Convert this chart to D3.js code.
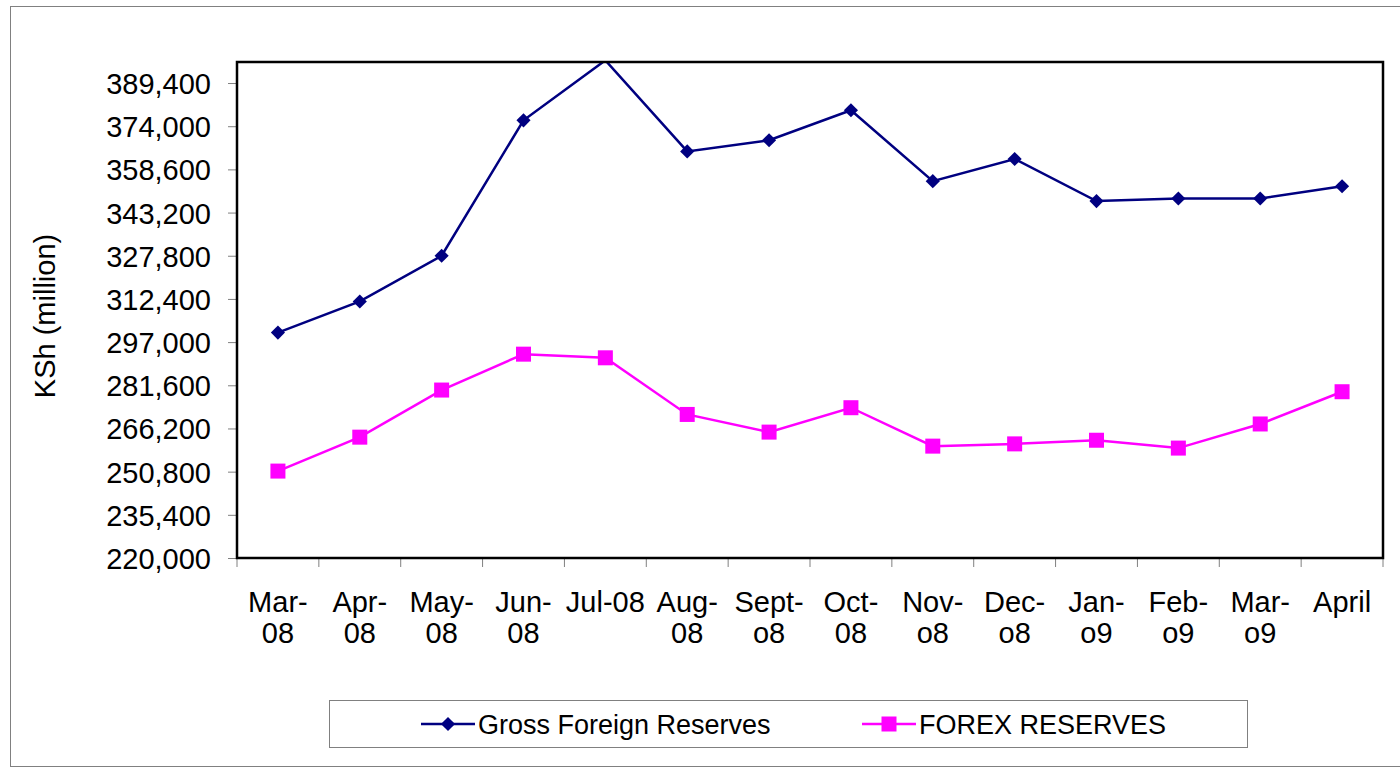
<!DOCTYPE html>
<html>
<head>
<meta charset="utf-8">
<script src="https://cdn.jsdelivr.net/npm/d3@7"></script>
<style>
  body { margin: 0; background: #fff; }
  svg { display: block; font-family: 'Liberation Sans', Arial, sans-serif; }
</style>
</head>
<body>
<svg width="1400" height="771"></svg>
<script>
// Data
const months = ['Mar-08', 'Apr-08', 'May-08', 'Jun-08', 'Jul-08', 'Aug-08', 'Sept-o8',
  'Oct-08', 'Nov-o8', 'Dec-o8', 'Jan-o9', 'Feb-o9', 'Mar-o9', 'April']
const monthLines = [['Mar-', '08'], ['Apr-', '08'], ['May-', '08'], ['Jun-', '08'], ['Jul-08'],
  ['Aug-', '08'], ['Sept-', 'o8'], ['Oct-', '08'], ['Nov-', 'o8'], ['Dec-', 'o8'],
  ['Jan-', 'o9'], ['Feb-', 'o9'], ['Mar-', 'o9'], ['April']]
const grossReserves = [300400, 311500, 327800, 376100, 397500, 365000, 369000,
  379700, 354400, 362300, 347300, 348200, 348200, 352600]
const forexReserves = [251000, 263100, 279900, 292700, 291400, 271200, 264900,
  273600, 259900, 260700, 262000, 259200, 267800, 279300]
const yTicks = [220000, 235400, 250800, 266200, 281600, 297000, 312400,
  327800, 343200, 358600, 374000, 389400]
const yMax = 396900

const navy = '#000080',
  magenta = '#ff00ff'

let xPixelMin = 237
let xPixelMax = 1383
let yPixelMin = 62
let yPixelMax = 558

const svg = d3.select('svg')

// outer chart frame
svg.append('rect')
  .attr('x', 10.5).attr('y', 6.5)
  .attr('width', 1400).attr('height', 760)
  .attr('fill', 'none').attr('stroke', '#808080').attr('stroke-width', 1)

// scales
let xScale = d3.scaleBand().domain(months).range([xPixelMin, xPixelMax])
let yScale = d3.scaleLinear().domain([220000, yMax]).range([yPixelMax, yPixelMin])
const xMid = (d) => xScale(d) + xScale.bandwidth() / 2

// y axis
let yAxis = d3.axisLeft(yScale)
  .tickValues(yTicks)
  .tickFormat(d3.format(','))
  .tickSize(9)
  .tickPadding(17)

const yAxisG = svg.append('g')
  .attr('id', 'yAxisG')
  .attr('transform', `translate(${xPixelMin}, 0)`)
  .call(yAxis)
yAxisG.select('.domain').remove()
yAxisG.selectAll('line').attr('stroke', '#808080')
yAxisG.selectAll('text')
  .attr('font-size', 29).attr('fill', '#000')
  .attr('dy', '0.36em')
  .attr('font-family', "'Liberation Sans', Arial, sans-serif")

// x axis: ticks at band edges
const xAxisG = svg.append('g').attr('id', 'xAxisG')
xAxisG.selectAll('line')
  .data(months.concat(['end']))
  .enter()
  .append('line')
  .attr('x1', (d) => d === 'end' ? xPixelMax : xScale(d))
  .attr('x2', (d) => d === 'end' ? xPixelMax : xScale(d))
  .attr('y1', yPixelMax)
  .attr('y2', yPixelMax + 9)
  .attr('stroke', '#808080')

xAxisG.selectAll('text')
  .data(months)
  .enter()
  .append('text')
  .attr('x', (d) => xMid(d))
  .attr('y', 612)
  .attr('text-anchor', 'middle')
  .attr('font-size', 29)
  .attr('fill', '#000')
  .each(function (d, i) {
    d3.select(this).selectAll('tspan')
      .data(monthLines[i])
      .enter()
      .append('tspan')
      .attr('x', xMid(d))
      .attr('dy', (t, j) => j === 0 ? 0 : 31)
      .text((t) => t)
  })

// y axis title
svg.append('text')
  .attr('transform', 'translate(55, 316) rotate(-90)')
  .attr('text-anchor', 'middle')
  .attr('font-size', 29)
  .text('KSh (million)')

// clip for series
svg.append('clipPath').attr('id', 'plotClip')
  .append('rect')
  .attr('x', xPixelMin).attr('y', yPixelMin)
  .attr('width', xPixelMax - xPixelMin).attr('height', yPixelMax - yPixelMin)

const plot = svg.append('g').attr('clip-path', 'url(#plotClip)')

// lines
const seriesLine = d3.line().x((d, i) => xMid(months[i])).y((d) => yScale(d))

plot.append('path')
  .attr('id', 'grossLine')
  .attr('d', seriesLine(grossReserves))
  .attr('fill', 'none')
  .attr('stroke', navy)
  .attr('stroke-width', 2.5)

plot.append('path')
  .attr('id', 'forexLine')
  .attr('d', seriesLine(forexReserves))
  .attr('fill', 'none')
  .attr('stroke', magenta)
  .attr('stroke-width', 2.5)

// markers (hidden when outside the plot area, as in the original)
plot.selectAll('path.gross')
  .data(grossReserves.map((v, i) => ({ v, m: months[i] })).filter((d) => d.v <= yMax))
  .enter()
  .append('path')
  .attr('class', 'gross')
  .attr('d', d3.symbol(d3.symbolSquare, 100))
  .attr('transform', (d) => `translate(${xMid(d.m)}, ${yScale(d.v)}) rotate(45)`)
  .attr('fill', navy)

plot.selectAll('rect.forex')
  .data(forexReserves)
  .enter()
  .append('rect')
  .attr('class', 'forex')
  .attr('x', (d, i) => xMid(months[i]) - 7.5)
  .attr('y', (d) => yScale(d) - 7.5)
  .attr('width', 15)
  .attr('height', 15)
  .attr('fill', magenta)

// plot area border
svg.append('rect')
  .attr('x', xPixelMin).attr('y', yPixelMin)
  .attr('width', xPixelMax - xPixelMin).attr('height', yPixelMax - yPixelMin)
  .attr('fill', 'none').attr('stroke', '#000').attr('stroke-width', 2.5)

// legend
const legend = svg.append('g').attr('id', 'legend')
legend.append('rect')
  .attr('x', 329.5).attr('y', 700.5)
  .attr('width', 918).attr('height', 47)
  .attr('fill', '#fff').attr('stroke', '#808080')

const legendItems = [
  { name: 'Gross Foreign Reserves', color: navy, x: 421 },
  { name: 'FOREX RESERVES', color: magenta, x: 862 }
]
legendItems.forEach((item, i) => {
  legend.append('line')
    .attr('x1', item.x).attr('x2', item.x + 54)
    .attr('y1', 724).attr('y2', 724)
    .attr('stroke', item.color).attr('stroke-width', 2.5)
  if (i === 0) {
    legend.append('path')
      .attr('d', d3.symbol(d3.symbolSquare, 100))
      .attr('transform', `translate(${item.x + 27}, 724) rotate(45)`)
      .attr('fill', item.color)
  } else {
    legend.append('rect')
      .attr('x', item.x + 19.5).attr('y', 716.5)
      .attr('width', 15).attr('height', 15)
      .attr('fill', item.color)
  }
  legend.append('text')
    .attr('x', item.x + 57)
    .attr('y', 734)
    .attr('font-size', 27)
    .text(item.name)
})
</script>
</body>
</html>
